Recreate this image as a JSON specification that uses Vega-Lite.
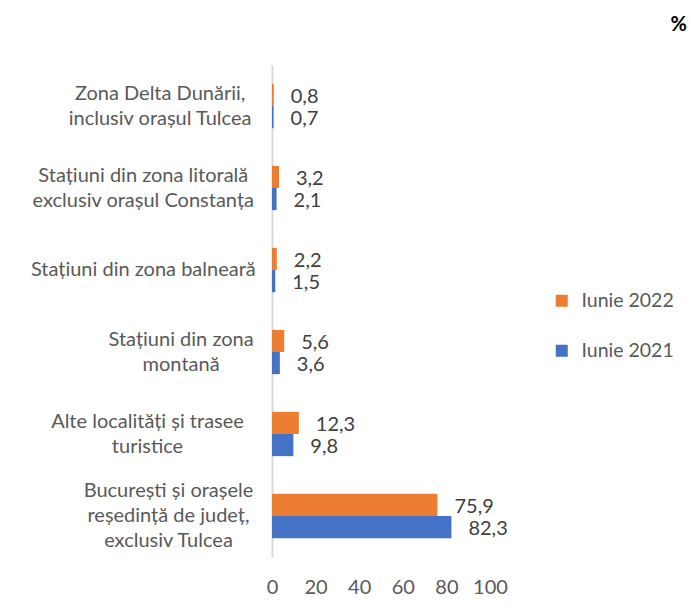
{
  "$schema": "https://vega.github.io/schema/vega-lite/v6.json",
  "autosize": "none",
  "width": 218,
  "height": 492,
  "padding": {"left": 272, "top": 65, "right": 201, "bottom": 56},
  "background": "white",
  "config": {"view": {"stroke": null}, "font": "Lato"},
  "title": {"text": "%", "anchor": "end", "frame": "group", "fontSize": 20, "fontWeight": "bold", "color": "#000000", "dx": 197, "offset": 30, "font": "Lato"},
  "data": {"values": [
    {"cat": "Zona Delta Dunării,\ninclusiv orașul Tulcea", "serie": "Iunie 2022", "val": 0.8, "lbl": "0,8"},
    {"cat": "Zona Delta Dunării,\ninclusiv orașul Tulcea", "serie": "Iunie 2021", "val": 0.7, "lbl": "0,7"},
    {"cat": "Stațiuni din zona litorală\nexclusiv orașul Constanța", "serie": "Iunie 2022", "val": 3.2, "lbl": "3,2"},
    {"cat": "Stațiuni din zona litorală\nexclusiv orașul Constanța", "serie": "Iunie 2021", "val": 2.1, "lbl": "2,1"},
    {"cat": "Stațiuni din zona balneară", "serie": "Iunie 2022", "val": 2.2, "lbl": "2,2"},
    {"cat": "Stațiuni din zona balneară", "serie": "Iunie 2021", "val": 1.5, "lbl": "1,5"},
    {"cat": "Stațiuni din zona\nmontană", "serie": "Iunie 2022", "val": 5.6, "lbl": "5,6"},
    {"cat": "Stațiuni din zona\nmontană", "serie": "Iunie 2021", "val": 3.6, "lbl": "3,6"},
    {"cat": "Alte localități și trasee\nturistice", "serie": "Iunie 2022", "val": 12.3, "lbl": "12,3"},
    {"cat": "Alte localități și trasee\nturistice", "serie": "Iunie 2021", "val": 9.8, "lbl": "9,8"},
    {"cat": "București și orașele\nreședință de județ,\nexclusiv Tulcea", "serie": "Iunie 2022", "val": 75.9, "lbl": "75,9"},
    {"cat": "București și orașele\nreședință de județ,\nexclusiv Tulcea", "serie": "Iunie 2021", "val": 82.3, "lbl": "82,3"}
  ]},
  "encoding": {
    "y": {
      "field": "cat", "type": "nominal", "sort": null, "title": null,
      "scale": {"paddingInner": 0.46, "paddingOuter": 0.23},
      "axis": {
        "labelExpr": "split(datum.label, '\\n')",
        "labelOffset": {"expr": "-(length(split(datum.label, '\\n')) - 1) * 12.5"},
        "labelPadding": {"expr": "20 + 4.2 * max(length(split(datum.label, '\\n')[0]), length(split(datum.label, '\\n')[1] || ''), length(split(datum.label, '\\n')[2] || ''))"},
        "labelFontSize": 20, "labelColor": "#595959", "labelLineHeight": 25,
        "ticks": false, "domainColor": "#d9d9d9", "domainWidth": 2,
        "labelLimit": 300, "labelAlign": "center", "labelBaseline": "middle"
      }
    },
    "yOffset": {"field": "serie", "type": "nominal", "sort": ["Iunie 2022", "Iunie 2021"], "scale": {"paddingInner": 0}},
    "x": {
      "field": "val", "type": "quantitative", "title": null,
      "scale": {"domain": [0, 100], "nice": false},
      "axis": {"values": [0, 20, 40, 60, 80, 100], "grid": false, "domain": false, "ticks": false, "labelFontSize": 20, "labelColor": "#595959", "labelPadding": 20, "labelFlush": false}
    }
  },
  "layer": [
    {
      "mark": {"type": "bar"},
      "encoding": {
        "color": {
          "field": "serie", "type": "nominal",
          "scale": {"domain": ["Iunie 2022", "Iunie 2021"], "range": ["#ED7D31", "#4472C4"]},
          "legend": {"title": null, "orient": "none", "legendX": 280, "legendY": 226, "symbolType": "square", "symbolSize": 144, "labelFontSize": 19.5, "labelColor": "#595959", "rowPadding": 29, "symbolStrokeWidth": 0, "labelOffset": 10}
        }
      }
    },
    {
      "mark": {"type": "text", "align": "left", "dx": 17, "dy": 2, "fontSize": 20, "color": "#404040"},
      "encoding": {"text": {"field": "lbl"}}
    }
  ]
}
